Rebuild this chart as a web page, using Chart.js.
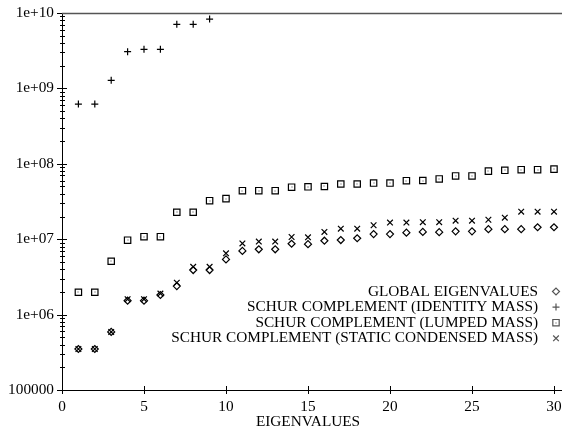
<!DOCTYPE html>
<html>
<head>
<meta charset="utf-8">
<script src="https://cdn.jsdelivr.net/npm/chart.js@4"></script>
<style>
  body { margin: 0; background: #fff; }
  #wrap { width: 562px; height: 431px; }
</style>
</head>
<body>
<div id="wrap"><canvas id="eigChart" width="562" height="431"></canvas></div>
<script>
// eigenvalue index (x)
const eigIndex = Array.from({ length: 30 }, (_, i) => i + 1);

// series values
const globalEig = [3.5e5, 3.5e5, 5.9e5, 1.53e6, 1.53e6, 1.82e6, 2.39e6, 3.9e6, 3.9e6, 5.4e6,
  7.0e6, 7.35e6, 7.35e6, 8.7e6, 8.6e6, 9.55e6, 9.75e6, 1.03e7, 1.17e7, 1.17e7,
  1.22e7, 1.25e7, 1.24e7, 1.27e7, 1.27e7, 1.36e7, 1.36e7, 1.36e7, 1.44e7, 1.44e7];
const identityMass = [6.2e8, 6.2e8, 1.28e9, 3.07e9, 3.3e9, 3.3e9, 7.08e9, 7.08e9, 8.3e9];
const lumpedMass = [1.98e6, 1.98e6, 5.1e6, 9.7e6, 1.08e7, 1.08e7, 2.28e7, 2.28e7, 3.24e7, 3.45e7,
  4.4e7, 4.4e7, 4.4e7, 4.9e7, 4.95e7, 5.0e7, 5.4e7, 5.4e7, 5.55e7, 5.55e7,
  5.97e7, 6.0e7, 6.3e7, 6.9e7, 6.9e7, 8.0e7, 8.2e7, 8.35e7, 8.35e7, 8.5e7];
const staticCondensed = [3.5e5, 3.5e5, 5.9e5, 1.6e6, 1.6e6, 1.9e6, 2.65e6, 4.3e6, 4.3e6, 6.5e6,
  8.8e6, 9.3e6, 9.3e6, 1.07e7, 1.06e7, 1.25e7, 1.38e7, 1.38e7, 1.53e7, 1.66e7,
  1.66e7, 1.68e7, 1.68e7, 1.76e7, 1.76e7, 1.81e7, 1.93e7, 2.32e7, 2.32e7, 2.32e7];

const seriesLabels = [
  'GLOBAL EIGENVALUES',
  'SCHUR COMPLEMENT (IDENTITY MASS)',
  'SCHUR COMPLEMENT (LUMPED MASS)',
  'SCHUR COMPLEMENT (STATIC CONDENSED MASS)'
];

// tick labels
const yTickValues = [1e5, 1e6, 1e7, 1e8, 1e9, 1e10];
const yTickLabels = ['100000', '1e+06', '1e+07', '1e+08', '1e+09', '1e+10'];
const xTickLabels = ['0', '5', '10', '15', '20', '25', '30'];

const FONT = "'Liberation Serif', 'Times New Roman', serif";
const pts = vals => vals.map((v, i) => ({ x: eigIndex[i], y: v }));

const mk = (label, vals, style, radius) => ({
  label,
  data: pts(vals),
  pointStyle: style,
  pointRadius: radius,
  pointHoverRadius: radius,
  pointBorderWidth: 1.2,
  borderColor: '#000',
  backgroundColor: 'transparent',
  pointBackgroundColor: 'transparent',
  showLine: false,
  clip: false
});

// dot in the middle of the square markers
const boxDotPlugin = {
  id: 'boxDot',
  afterDatasetsDraw(chart) {
    const ctx = chart.ctx;
    ctx.save();
    ctx.fillStyle = '#444';
    chart.getDatasetMeta(2).data.forEach(el => {
      ctx.fillRect(Math.round(el.x) - 0.5, Math.round(el.y) - 0.5, 1, 1);
    });
    ctx.restore();
  }
};

// frame, ticks and legend drawn by hand (gnuplot look)
const framePlugin = {
  id: 'frame',
  afterDraw(chart) {
    const ctx = chart.ctx;
    const { left, right, top, bottom } = chart.chartArea;
    const xs = chart.scales.x, ys = chart.scales.y;
    const W = chart.width;
    ctx.save();
    ctx.strokeStyle = '#000';
    ctx.lineWidth = 1;
    ctx.beginPath();
    ctx.moveTo(left + 0.5, top); ctx.lineTo(left + 0.5, bottom);
    ctx.moveTo(left, bottom + 0.5); ctx.lineTo(W, bottom + 0.5);
    // y ticks
    for (let e = 5; e <= 10; e++) {
      for (let m = 1; m <= 9; m++) {
        const v = m * Math.pow(10, e);
        if (v > 1e10) break;
        const py = Math.round(ys.getPixelForValue(v)) + 0.5;
        if (m === 1) {
          ctx.moveTo(left - 5, py); ctx.lineTo(left + 5, py);
        } else {
          ctx.moveTo(left - 2, py); ctx.lineTo(left + 3, py);
        }
      }
    }
    // x ticks
    for (let v = 0; v <= 30; v += 5) {
      const px = Math.round(xs.getPixelForValue(v)) + 0.5;
      ctx.moveTo(px, bottom - 4); ctx.lineTo(px, bottom + 4);
    }
    ctx.stroke();
    // top border, a bit heavier and grey
    ctx.strokeStyle = '#555';
    ctx.lineWidth = 1.5;
    ctx.beginPath();
    ctx.moveTo(left, top + 0.5); ctx.lineTo(W, top + 0.5);
    ctx.stroke();

    // legend
    ctx.font = '15.3px ' + FONT;
    ctx.textAlign = 'right';
    ctx.textBaseline = 'middle';
    chart.data.datasets.forEach((ds, i) => {
      const y = 291.5 + i * 15.6;
      ctx.fillStyle = '#000';
      ctx.fillText(ds.label, right - 16, y);
      ctx.fillStyle = 'rgba(0,0,0,0)';
      ctx.lineWidth = 1.2;
      Chart.helpers.drawPoint(ctx, {
        pointStyle: ds.pointStyle, radius: ds.pointRadius, borderWidth: 1.2, rotation: 0
      }, right + 2, y);
      if (i === 2) {
        ctx.fillStyle = '#444';
        ctx.fillRect(right + 1.5, Math.round(y) - 0.5, 1, 1);
      }
    });
    ctx.restore();
  }
};

const noPad = s => { s.paddingTop = 0; s.paddingBottom = 0; s.paddingLeft = 0; s.paddingRight = 0; };

new Chart(document.getElementById('eigChart'), {
  type: 'scatter',
  data: {
    datasets: [
      mk(seriesLabels[0], globalEig, 'rectRot', 3.5),
      mk(seriesLabels[1], identityMass, 'cross', 3.5),
      mk(seriesLabels[2], lumpedMass, 'rect', 4.5),
      mk(seriesLabels[3], staticCondensed, 'crossRot', 4)
    ]
  },
  options: {
    responsive: false,
    animation: false,
    layout: { padding: { top: 13, right: 8, left: 0, bottom: 0 } },
    plugins: { legend: { display: false }, tooltip: { enabled: false } },
    scales: {
      x: {
        type: 'linear',
        min: 0, max: 30,
        grid: { display: false, drawTicks: false },
        border: { display: false },
        ticks: {
          stepSize: 5,
          padding: 8,
          color: '#000',
          font: { family: FONT, size: 15.3 },
          callback: v => xTickLabels[v / 5]
        },
        title: {
          display: true, text: 'EIGENVALUES', color: '#000',
          font: { family: FONT, size: 15.3 }, padding: { top: 0, bottom: 0 }
        },
        afterFit: s => { s.height = 41; noPad(s); }
      },
      y: {
        type: 'logarithmic',
        min: 1e5, max: 1e10,
        grid: { display: false, drawTicks: false },
        border: { display: false },
        afterBuildTicks: s => { s.ticks = yTickValues.map(v => ({ value: v })); },
        ticks: {
          autoSkip: false,
          padding: 8,
          color: '#000',
          font: { family: FONT, size: 15.3 },
          callback: v => {
            const k = yTickValues.indexOf(v);
            return k >= 0 ? yTickLabels[k] : '';
          }
        },
        afterFit: s => { s.width = 62; noPad(s); }
      }
    }
  },
  plugins: [boxDotPlugin, framePlugin]
});
</script>
</body>
</html>
